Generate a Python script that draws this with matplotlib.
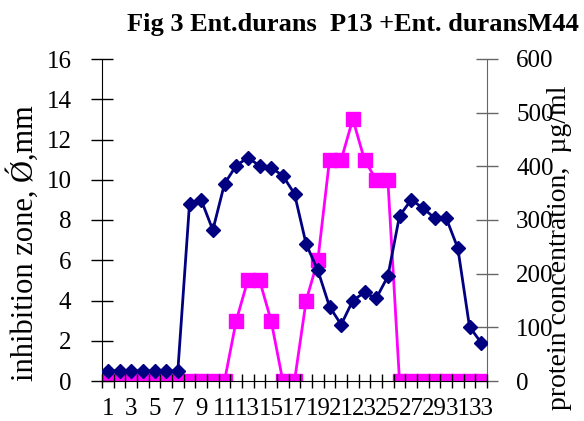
import matplotlib
matplotlib.use("Agg")
import matplotlib.pyplot as plt
import numpy as np

plt.rcParams['font.family'] = ['Liberation Serif', 'DejaVu Serif']

fractions = list(range(1, 34))
inhibition = [0.5, 0.5, 0.5, 0.5, 0.5, 0.5, 0.5, 8.8, 9.0, 7.5, 9.8, 10.7, 11.1, 10.7,
              10.6, 10.2, 9.3, 6.8, 5.5, 3.7, 2.8, 4.0, 4.4, 4.1, 5.2, 8.2, 9.0, 8.6,
              8.1, 8.1, 6.6, 2.7, 1.9]
protein = [0, 0, 0, 0, 0, 0, 0, 0, 0, 0, 0, 112, 188, 188, 112, 0, 0, 150, 225,
           412, 412, 488, 412, 375, 375, 0, 0, 0, 0, 0, 0, 0, 0]
left_ticks = list(range(0, 17, 2))
right_ticks = list(range(0, 601, 100))
title = "Fig 3 Ent.durans  P13 +Ent. duransM44"
left_label = "inhibition zone, Ǿ,mm"
right_label = "protein concentration,  µg/ml"

fig = plt.figure(figsize=(5.84, 4.21), dpi=100)
ax = fig.add_axes([102/584, 1-381/421, 385/584, 322/421])
ax2 = ax.twinx()

x = np.arange(len(fractions))
ax2.plot(x, protein, color='#FF00FF', lw=2, marker='s', ms=10, zorder=2)
ax.plot(x, inhibition, color='#000080', lw=2, marker='D', ms=7.5, zorder=3)
ax.set_zorder(ax2.get_zorder() + 1)
ax.patch.set_visible(False)

ax.set_xlim(-0.5, len(fractions) - 0.5)
ax.set_ylim(0, 16)
ax2.set_ylim(0, 600)
ax.set_yticks(left_ticks)
ax2.set_yticks(right_ticks)

# category boundaries ticks; labels every other
ax.set_xticks(np.arange(-0.5, len(fractions), 1))
ax.set_xticklabels([])
ax.set_xticks(x[::2], minor=True)
ax.set_xticklabels([str(f) for f in fractions[::2]], minor=True)
ax.tick_params(axis='x', which='major', direction='inout', length=10, width=1, color='black')
ax.tick_params(axis='x', which='minor', length=0, labelsize=18, pad=12)
ax.tick_params(axis='y', direction='inout', length=16, width=1, labelsize=18, pad=14)
ax2.tick_params(axis='y', direction='inout', length=16, width=1, labelsize=18, pad=13, color='#666666')

for a in (ax, ax2):
    a.spines['top'].set_visible(False)
ax.spines['right'].set_visible(False)
ax2.spines['left'].set_visible(False)
ax2.spines['bottom'].set_visible(False)
ax2.spines['right'].set_color('#666666')

fig.text(23/584, 1-243/421, left_label, fontsize=22, rotation=90, ha='center', va='center')
fig.text(560/584, 1-248/421, right_label, fontsize=20, rotation=90, ha='center', va='center')

fig.text(353/584, 1-25/421, title, fontsize=19, fontweight='bold', ha='center', va='center')

fig.savefig("out.png", dpi=100)
